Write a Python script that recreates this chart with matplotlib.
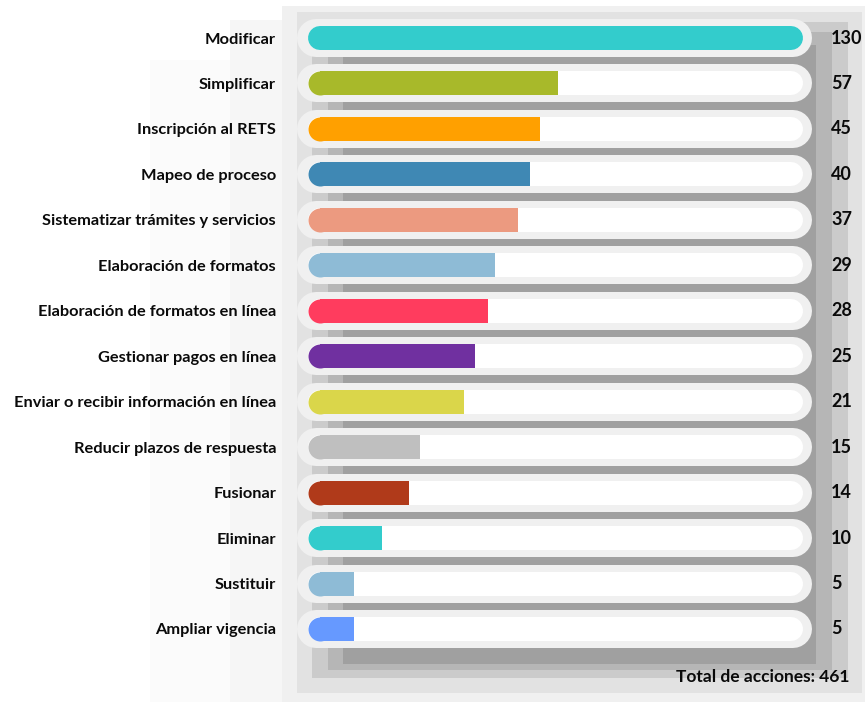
import matplotlib.pyplot as plt
from matplotlib.patches import Rectangle

# Datos
acciones = ['Modificar', 'Simplificar', 'Inscripción al RETS', 'Mapeo de proceso',
            'Sistematizar trámites y servicios', 'Elaboración de formatos',
            'Elaboración de formatos en línea', 'Gestionar pagos en línea',
            'Enviar o recibir información en línea', 'Reducir plazos de respuesta',
            'Fusionar', 'Eliminar', 'Sustituir', 'Ampliar vigencia']
valores = [130, 57, 45, 40, 37, 29, 28, 25, 21, 15, 14, 10, 5, 5]
# largo de cada barra tal como se ve en la imagen (% del riel)
largo = [100, 50.5, 46.9, 44.8, 42.4, 37.8, 36.4, 33.7, 31.5, 22.6, 20.4, 15.0, 9.3, 9.3]
colores = ['#33CCCC', '#A8B92A', '#FFA000', '#3F88B4', '#EC9A80', '#8EBBD6', '#FF3C5E',
           '#7030A0', '#DAD64A', '#BFBFBF', '#B03A1A', '#33CCCC', '#8EBBD6', '#6699FF']
total = 461

plt.rcParams['font.family'] = ['Lato', 'DejaVu Sans']
plt.rcParams['font.weight'] = 'bold'

W, H = 865, 702
fig = plt.figure(figsize=(W / 100, H / 100), dpi=100)
fig.patch.set_facecolor('white')

# fondo: sombra gris escalonada
bg = fig.add_axes([0, 0, 1, 1])
bg.set_xlim(0, W)
bg.set_ylim(H, 0)
bg.axis('off')
capas = [(150, 865, 60, 702, '#fbfbfb'),
         (230, 865, 20, 702, '#f6f6f6'),
         (282, 865, 6, 702, '#f0f0f0'),
         (297, 862, 12, 693, '#e2e2e2'),
         (312, 848, 22, 678, '#cbcbcb'),
         (328, 832, 32, 670, '#b6b6b6'),
         (343, 816, 45, 664, '#a0a0a0')]
for x0, x1, y0, y1, c in capas:
    bg.add_patch(Rectangle((x0, y0), x1 - x0, y1 - y0, color=c, lw=0))

# ejes de barras: x 0..100 -> 308..803 px
ax = fig.add_axes([308 / W, 0, 495 / W, 1])
ax.patch.set_alpha(0)
paso = 45.46
ax.set_xlim(0, 100)
ax.set_ylim((H - 38) / paso, -38 / paso)
for s in ax.spines.values():
    s.set_visible(False)
ax.set_xticks([])

pxu = 100 / 495  # unidades por pixel
pt = 0.72        # puntos por pixel
n = len(acciones)
for i in range(n):
    # riel exterior gris claro y riel interior blanco
    r_ext = 19 * pxu
    ax.plot([-11 * pxu + r_ext, 100 + 9 * pxu - r_ext], [i, i], color='#f0f0f0',
            lw=38 * pt, solid_capstyle='round', clip_on=False, zorder=1)
    r = 12 * pxu
    ax.plot([r, 100 - r], [i, i], color='white', lw=24 * pt,
            solid_capstyle='round', clip_on=False, zorder=2)
    L = largo[i]
    if L >= 100:
        ax.plot([r, L - r], [i, i], color=colores[i], lw=24 * pt,
                solid_capstyle='round', clip_on=False, zorder=3)
    else:
        ax.plot([r, L], [i, i], color=colores[i], lw=24 * pt,
                solid_capstyle='butt', clip_on=False, zorder=3)
        ax.plot([r], [i], marker='o', ms=24 * pt, color=colores[i], mew=0,
                clip_on=False, zorder=3)
    ax.text(100 + 28 * pxu, i, str(valores[i]), ha='left', va='center',
            fontsize=13, fontweight='bold', color='#0a0a0a')

ax.set_yticks(range(n))
ax.set_yticklabels(acciones, fontsize=11.8, fontweight='bold', color='#0a0a0a')
ax.tick_params(axis='y', length=0, pad=23)

fig.text(850 / W, 1 - 677 / H, f'Total de acciones: {total}', ha='right', va='center',
         fontsize=12.5, fontweight='bold', color='#0a0a0a')

fig.savefig('out.png', dpi=100)
